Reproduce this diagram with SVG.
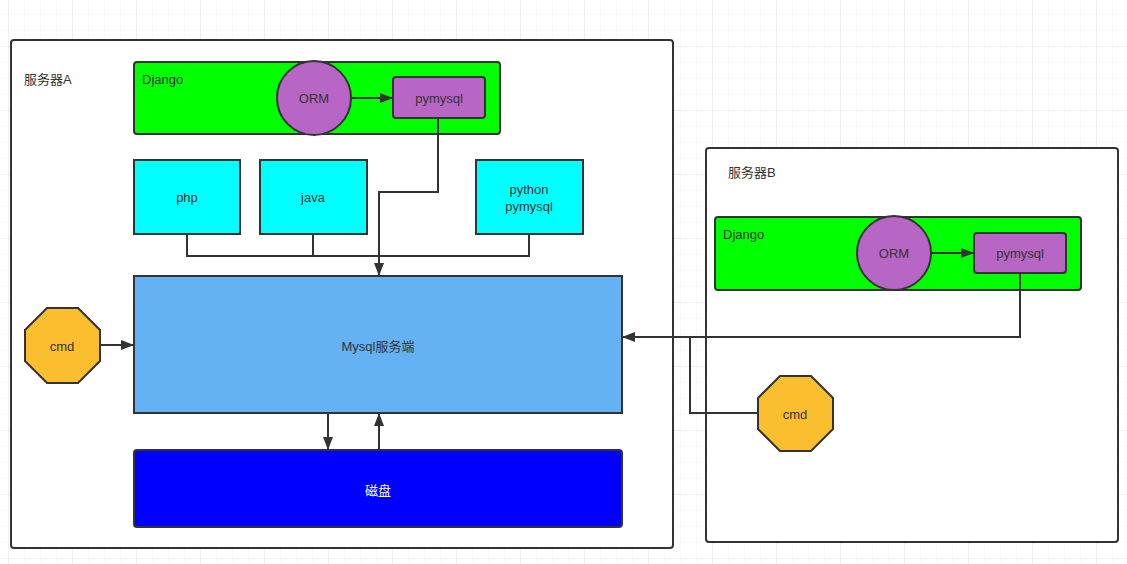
<svg xmlns="http://www.w3.org/2000/svg" width="1127" height="564" viewBox="0 0 1127 564">
<style>
text{font-family:"Liberation Sans","Noto Sans CJK SC",sans-serif;font-size:13px;fill:#333;}
.c{text-anchor:middle;dominant-baseline:central;}
.box{stroke:#333;stroke-width:2;}
.con{fill:none;stroke:#333;stroke-width:2;}
</style>
<defs>
<pattern id="minor" width="16" height="16" patternUnits="userSpaceOnUse" x="8" y="14">
<path d="M0 0H16M0 0V16" fill="none" stroke="#f1f1f1" stroke-width="1"/>
</pattern>
<pattern id="major" width="64" height="64" patternUnits="userSpaceOnUse" x="8" y="46">
<path d="M0 0H64M0 0V64" fill="none" stroke="#e6e6e6" stroke-width="1"/>
</pattern>
<marker id="arr" markerWidth="13" markerHeight="10" refX="12" refY="5" orient="auto" markerUnits="userSpaceOnUse">
<path d="M0 0L13 5L0 10Z" fill="#333"/>
</marker>
</defs>
<rect width="1127" height="564" fill="#fff"/>
<rect width="1127" height="564" fill="url(#minor)"/>
<rect width="1127" height="564" fill="url(#major)"/>

<g id="serverA">
<rect x="11" y="40" width="662" height="508" rx="3" fill="#fff" class="box"/>
<text x="24" y="84">服务器A</text>
</g>
<g id="serverB">
<rect x="706" y="148" width="412" height="394" rx="3" fill="#fff" class="box"/>
<text x="728" y="177">服务器B</text>
</g>

<g id="djangoA">
<rect x="134" y="62" width="366" height="72" rx="3" fill="#00ff00" class="box"/>
<text x="142" y="84">Django</text>
</g>
<g id="ormA">
<circle cx="314" cy="98" r="37" fill="#b766c5" class="box"/>
<text x="314" y="98" class="c">ORM</text>
</g>
<g id="pymysqlA">
<rect x="393" y="77" width="92" height="41" rx="3" fill="#b766c5" class="box"/>
<text x="439" y="98" class="c">pymysql</text>
</g>
<g id="php">
<rect x="134" y="160" width="106" height="74" fill="#00ffff" class="box"/>
<text x="187" y="197" class="c">php</text>
</g>
<g id="java">
<rect x="260" y="160" width="107" height="74" fill="#00ffff" class="box"/>
<text x="313" y="197" class="c">java</text>
</g>
<g id="python">
<rect x="476" y="160" width="107" height="74" fill="#00ffff" class="box"/>
<text x="529" y="189" class="c">python</text>
<text x="529" y="206" class="c">pymysql</text>
</g>
<g id="mysql">
<rect x="134" y="276" width="488" height="137" fill="#64b1f4" class="box"/>
<text x="378" y="346" class="c">Mysql服务端</text>
</g>
<g id="disk">
<rect x="134" y="450" width="488" height="77" rx="3" fill="#0000ff" class="box"/>
<text x="378" y="490" class="c" style="fill:#fff">磁盘</text>
</g>
<g id="cmdA">
<polygon points="47,308 78,308 100,330 100,361 78,383 47,383 25,361 25,330" fill="#fbbe2e" class="box"/>
<text x="62" y="346" class="c">cmd</text>
</g>
<g id="djangoB">
<rect x="715" y="217" width="366" height="73" rx="3" fill="#00ff00" class="box"/>
<text x="723" y="239">Django</text>
</g>
<g id="ormB">
<circle cx="894" cy="253" r="37" fill="#b766c5" class="box"/>
<text x="894" y="253" class="c">ORM</text>
</g>
<g id="pymysqlB">
<rect x="974" y="233" width="92" height="40" rx="3" fill="#b766c5" class="box"/>
<text x="1020" y="253" class="c">pymysql</text>
</g>
<g id="cmdB">
<polygon points="780,376 811,376 833,398 833,429 811,451 780,451 758,429 758,398" fill="#fbbe2e" class="box"/>
<text x="795" y="414" class="c">cmd</text>
</g>

<g id="connectors">
<path class="con" d="M351 98H392" marker-end="url(#arr)"/>
<path class="con" d="M438 118V192H379V275" marker-end="url(#arr)"/>
<path class="con" d="M187 234V256H529V234M313 234V256"/>
<path class="con" d="M100 345H133" marker-end="url(#arr)"/>
<path class="con" d="M328 413V449" marker-end="url(#arr)"/>
<path class="con" d="M379 450V414" marker-end="url(#arr)"/>
<path class="con" d="M931 253H973" marker-end="url(#arr)"/>
<path class="con" d="M1020 273V337H623" marker-end="url(#arr)"/>
<path class="con" d="M758 413H690V337"/>
</g>
</svg>
